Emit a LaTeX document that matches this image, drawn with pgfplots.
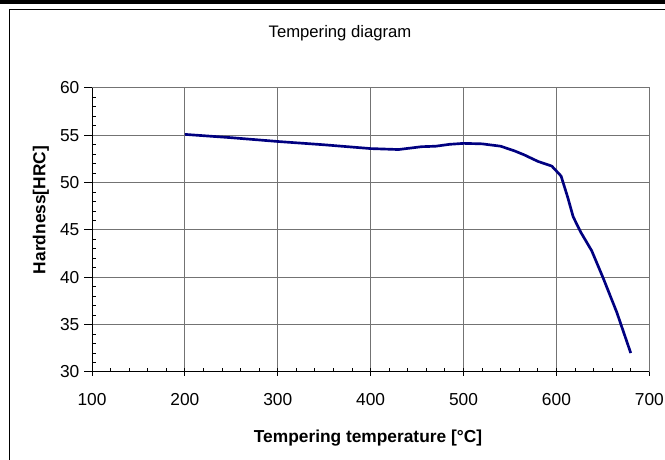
\documentclass[border=0pt]{standalone}
\usepackage{fontspec}
\setmainfont{Liberation Sans}
\usepackage{pgfplots}
\pgfplotsset{compat=1.18}
\definecolor{curve}{RGB}{0,0,128}
% 1 px of the reference = 0.75pt
\begin{document}
\begin{tikzpicture}[x=0.75pt,y=0.75pt]
  \path[use as bounding box] (0,0) rectangle (665,460);
  % chart frame
  \fill[black] (0,456) rectangle (665,460);
  \draw[black, line width=0.75pt] (9,0) -- (9,450.5) -- (665,450.5);

  \begin{axis}[
      at={(69pt,66pt)}, anchor=south west,
      scale only axis,
      width=418pt, height=213pt,
      xmin=100, xmax=700, ymin=30, ymax=60,
      xtick={100,200,...,700},
      ytick={30,35,...,60},
      minor x tick num=4,
      minor y tick num=4,
      axis x line*=bottom, axis y line*=left,
      axis line style={black, line width=0.75pt},
      grid=major,
      major grid style={black!55, line width=0.75pt},
      tick align=center,
      major tick length=6pt,
      minor tick length=3pt,
      tick style={black, line width=0.75pt},
      major y tick style={xshift=-3pt},
      minor x tick style={yshift=1.5pt},
      minor y tick style={xshift=1.5pt},
      ticklabel style={font=\fontsize{13}{15}\selectfont},
      /pgf/number format/assume math mode=true,
      xticklabel style={yshift=-9.5pt},
      yticklabel style={xshift=-3pt},
      clip=false,
    ]
    % top and right borders of the plot area
    \draw[black!55, line width=0.75pt] (axis cs:100,60) -- (axis cs:700,60) -- (axis cs:700,30);
    \addplot[curve, line width=2pt, line join=round] coordinates {
      (200,55.1) (250,54.75) (300,54.35) (350,54.0) (400,53.6)
      (430,53.5) (455,53.8) (470,53.85) (485,54.05) (500,54.15)
      (520,54.1) (540,53.85) (555,53.35) (565,52.95) (580,52.25)
      (595,51.75) (605,50.7) (612,48.5) (618,46.4) (626,44.8)
      (638,42.8) (650,40.0) (665,36.3) (680,32.0)
    };
  \end{axis}

  \node[font=\fontsize{12.5}{15}\selectfont] at (340,427) {Tempering diagram};
  \node[font=\fontsize{13}{15}\selectfont\bfseries] at (368,22) {Tempering temperature [°C]};
  \node[font=\fontsize{13}{15}\selectfont\bfseries, rotate=90] at (41,250) {Hardness[HRC]};
\end{tikzpicture}
\end{document}
